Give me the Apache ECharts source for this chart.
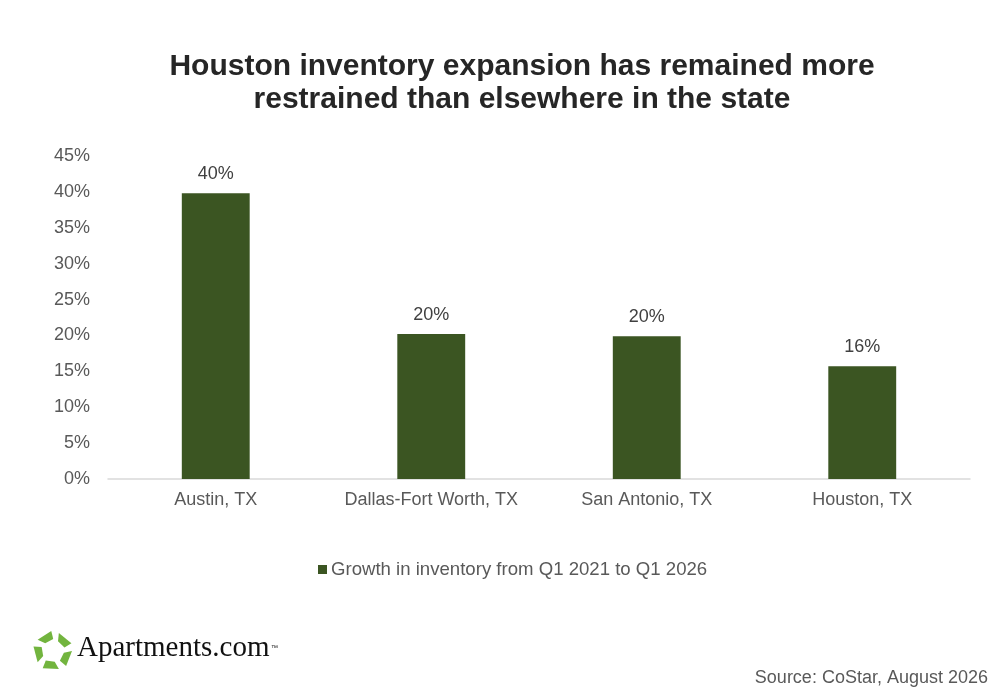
<!DOCTYPE html>
<html>
<head>
<meta charset="utf-8">
<script src="https://cdn.jsdelivr.net/npm/echarts@6/dist/echarts.min.js"></script>
<style>
html,body{margin:0;padding:0;background:#fff;}
#c{width:1000px;height:699px;}
</style>
</head>
<body>
<div id="c"></div>
<script>
const categories = ['Austin, TX', 'Dallas-Fort Worth, TX', 'San Antonio, TX', 'Houston, TX'];
const growthValues = [39.8, 20.2, 19.9, 15.7];
const seriesName = 'Growth in inventory from Q1 2021 to Q1 2026';
const titleText = 'Houston inventory expansion has remained more\nrestrained than elsewhere in the state';
const sourceText = 'Source: CoStar, August 2026';

const chart = echarts.init(document.getElementById('c'));
const FONT = '"Liberation Sans", Arial, sans-serif';
const GREY = '#595959';

// Logo icon pieces (decorative)
const logoPieces = [];
const cx = 53, cy = 651;
for (let k = 0; k < 5; k++) {
  const base = -117 + k * 72;
  const pts = [];
  const spec = [[11, base - 18], [19, base - 27], [20, base + 22], [12, base + 28]];
  spec.forEach(([r, a]) => {
    const t = a * Math.PI / 180;
    pts.push([cx + r * Math.cos(t), cy + r * Math.sin(t)]);
  });
  logoPieces.push({
    type: 'polygon',
    shape: { points: pts },
    style: { fill: '#72b43e' },
    silent: true
  });
}

chart.setOption({
  backgroundColor: '#ffffff',
  title: {
    text: titleText,
    left: 522,
    top: 50,
    textAlign: 'center',
    padding: 0,
    textStyle: {
      fontFamily: FONT,
      fontSize: 30,
      fontWeight: 'bold',
      color: '#262626',
      lineHeight: 33
    }
  },
  grid: { left: 108, right: 30, top: 156, bottom: 220, containLabel: false },
  legend: {
    data: [seriesName],
    left: 318,
    top: 560,
    padding: 0,
    icon: 'rect',
    itemWidth: 9,
    itemHeight: 9,
    textStyle: { fontFamily: FONT, fontSize: 18.6, color: GREY, padding: [0, 0, 0, -1] }
  },
  xAxis: {
    type: 'category',
    data: categories,
    axisLine: { lineStyle: { color: '#d9d9d9', width: 1.5 } },
    axisTick: { show: false },
    axisLabel: { interval: 0, fontFamily: FONT, fontSize: 18, color: GREY, margin: 12 }
  },
  yAxis: {
    type: 'value',
    min: 0,
    max: 45,
    interval: 5,
    splitLine: { show: false },
    axisLine: { show: false },
    axisTick: { show: false },
    axisLabel: {
      fontFamily: FONT, fontSize: 18, color: GREY, margin: 18,
      formatter: v => v + '%'
    }
  },
  series: [{
    name: seriesName,
    type: 'bar',
    data: growthValues,
    barWidth: '31.5%',
    itemStyle: { color: '#3b5522' },
    label: {
      show: true,
      position: 'top',
      distance: 10,
      fontFamily: FONT,
      fontSize: 18,
      color: '#404040',
      formatter: p => Math.round(p.value) + '%'
    }
  }],
  graphic: [
    ...logoPieces,
    {
      type: 'text',
      left: 77,
      top: 634,
      silent: true,
      style: {
        text: 'Apartments.com',
        font: '29px "Liberation Serif", "Times New Roman", serif',
        fill: '#111111'
      }
    },
    {
      type: 'text',
      left: 271,
      top: 645,
      silent: true,
      style: {
        text: '™',
        font: '7px "Liberation Sans", Arial, sans-serif',
        fill: '#111111'
      }
    },
    {
      type: 'text',
      right: 12,
      top: 669,
      silent: true,
      style: {
        text: sourceText,
        font: '18px "Liberation Sans", Arial, sans-serif',
        fill: GREY
      }
    }
  ]
});
</script>
</body>
</html>
